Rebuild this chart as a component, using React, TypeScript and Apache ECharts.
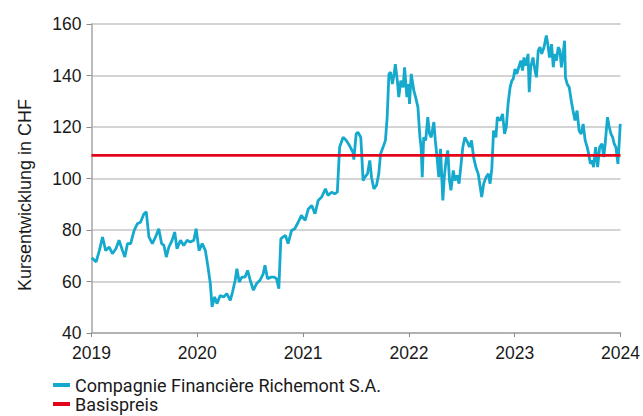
import React, { useEffect, useRef } from "react";
import * as echarts from "echarts";

const seriesName = "Compagnie Financière Richemont S.A.";
const basisName = "Basispreis";
const yAxisTitle = "Kursentwicklung in CHF";

const basisPrice = 109;
const xRange = [2019, 2024];
const yRange = [40, 160];

const dates: string[] = [
  "2019-01-02","2019-01-17","2019-01-28","2019-02-08","2019-02-19","2019-03-03","2019-03-14","2019-03-26",
  "2019-04-06","2019-04-18","2019-04-26","2019-05-05","2019-05-16","2019-05-28","2019-06-08","2019-06-19",
  "2019-07-01","2019-07-09","2019-07-18","2019-07-30","2019-08-10","2019-08-21","2019-08-31","2019-09-08",
  "2019-09-16","2019-09-25","2019-10-06","2019-10-15","2019-10-23","2019-11-04","2019-11-15","2019-11-27",
  "2019-12-08","2019-12-20","2019-12-28","2020-01-07","2020-01-18","2020-01-29","2020-02-07","2020-02-15",
  "2020-02-21","2020-03-01","2020-03-09","2020-03-20","2020-04-01","2020-04-12","2020-04-24","2020-05-02",
  "2020-05-11","2020-05-17","2020-05-25","2020-06-03","2020-06-14","2020-06-23","2020-07-02","2020-07-13",
  "2020-07-24","2020-08-05","2020-08-16","2020-08-22","2020-08-31","2020-09-12","2020-09-23","2020-10-01",
  "2020-10-09","2020-10-16","2020-10-24","2020-11-01","2020-11-10","2020-11-22","2020-12-03","2020-12-15",
  "2020-12-26","2021-01-08","2021-01-19","2021-01-31","2021-02-11","2021-02-22","2021-03-06","2021-03-19",
  "2021-03-28","2021-04-09","2021-04-20","2021-04-29","2021-05-07","2021-05-19","2021-05-30","2021-06-10",
  "2021-06-22","2021-06-25","2021-07-03","2021-07-09","2021-07-19","2021-07-27","2021-08-02","2021-08-11",
  "2021-08-19","2021-08-25","2021-09-02","2021-09-11","2021-09-19","2021-09-25","2021-10-04","2021-10-12",
  "2021-10-18","2021-10-24","2021-10-30","2021-11-05","2021-11-11","2021-11-15","2021-11-22","2021-11-27",
  "2021-12-04","2021-12-12","2021-12-17","2021-12-25","2021-12-31","2022-01-03","2022-01-09","2022-01-18",
  "2022-01-24","2022-02-01","2022-02-08","2022-02-12","2022-02-16","2022-02-21","2022-02-28","2022-03-07",
  "2022-03-13","2022-03-19","2022-03-28","2022-04-02","2022-04-08","2022-04-14","2022-04-20","2022-04-28",
  "2022-05-03","2022-05-09","2022-05-15","2022-05-21","2022-05-26","2022-06-03","2022-06-09","2022-06-16",
  "2022-06-23","2022-06-30","2022-07-06","2022-07-13","2022-07-22","2022-07-29","2022-08-05","2022-08-12",
  "2022-08-20","2022-08-28","2022-09-04","2022-09-09","2022-09-16","2022-09-24","2022-10-02","2022-10-08",
  "2022-10-14","2022-10-20","2022-10-28","2022-11-02","2022-11-12","2022-11-20","2022-11-27","2022-12-03",
  "2022-12-09","2022-12-16","2022-12-22","2022-12-27","2023-01-02","2023-01-08","2023-01-15","2023-01-22",
  "2023-01-28","2023-02-02","2023-02-09","2023-02-16","2023-02-20","2023-02-25","2023-03-05","2023-03-12",
  "2023-03-17","2023-03-23","2023-03-29","2023-04-04","2023-04-12","2023-04-20","2023-04-25","2023-05-01",
  "2023-05-08","2023-05-14","2023-05-19","2023-05-25","2023-05-31","2023-06-06","2023-06-11","2023-06-17",
  "2023-06-22","2023-06-25","2023-07-01","2023-07-08","2023-07-15","2023-07-21","2023-07-28","2023-08-04",
  "2023-08-11","2023-08-18","2023-08-25","2023-09-01","2023-09-08","2023-09-13","2023-09-19","2023-09-25",
  "2023-09-30","2023-10-07","2023-10-14","2023-10-21","2023-10-29","2023-11-04","2023-11-09","2023-11-17",
  "2023-11-23","2023-11-29","2023-12-05","2023-12-10","2023-12-16","2023-12-23","2023-12-28","2023-12-31",
];

const prices: number[] = [
  69.2,67.6,72,77.3,72,73.4,70.8,72.7,
  76,72,69.5,74.7,74.7,79.8,82.4,83,
  86.3,87,77.3,74.7,77.3,80.5,74.7,74,
  69.5,73.4,76,79.2,72.7,76,74,76,
  75.3,76,80.5,72,74.7,72,65.6,59.2,
  50.1,54,51.4,54.6,54,55.3,52.7,56,
  60.5,65,59.8,61.7,61.7,64.3,60.5,56.6,
  59.2,60.5,63,66.3,61.1,61.7,61.7,61.1,
  57.2,76.6,77.3,77.9,74.7,79.8,80.5,83,
  85.7,83.7,88.2,89.5,86.3,91.5,92.8,96,
  93.4,94.7,94.1,94.7,112.2,116,114.8,112.8,
  110.2,107.3,117.3,118,116,99.2,100.5,101.8,
  107,100.5,96,97.3,101.8,109.5,112.2,114.8,
  123.8,140.6,141.3,136.7,140.6,144.4,138,131.6,
  138,135.4,143.2,131.6,136.7,129,140.6,134.1,
  131.6,127.7,116,112.2,100.5,116,114.8,123.8,
  117.3,116,121.9,114.8,108.3,100.5,111.5,91.5,
  100.5,107,110.9,99.2,95.4,103.1,99.2,101.2,
  98,105.7,112.2,116,114.1,112.2,114.8,108.3,
  104.4,101.8,96.7,92.8,98,100.5,101.8,98,
  103.8,118.6,116,123.8,122.5,125.1,117.3,120,
  129,135.4,138,138.7,142.5,140.6,143.2,145.8,
  141.9,147,143.8,148.4,133.5,143.2,147,141.9,
  139.3,149.7,151,148.4,151,155.5,152.2,147,
  152.2,143.2,148.4,145.8,151,149.7,143.2,148.4,
  153.5,139.3,136.7,135.4,130.3,126.4,122.5,126.4,
  118.6,117.3,121.2,114.8,112.2,109.6,105.7,107,
  104.4,112.2,104.4,112.2,113.5,108.3,113.5,123.8,
  120,117.3,116,113.5,112.2,105.7,114.8,121.2,
];

function toYear(s: string): number {
  const [y, m, d] = s.split("-").map(Number);
  const start = Date.UTC(y, 0, 1);
  const end = Date.UTC(y + 1, 0, 1);
  return y + (Date.UTC(y, m - 1, d) - start) / (end - start);
}

const CYAN = "#14a9cd";
const RED = "#e3051b";
const TEXT = "#1a1a1a";
const AXIS_FONT = "'Liberation Sans', Arial, sans-serif";

export default function App() {
  const ref = useRef<HTMLDivElement>(null);
  useEffect(() => {
    if (!ref.current) return;
    const chart = echarts.init(ref.current, undefined, { renderer: "svg" });
    const mainData = dates.map((d, i) => [toYear(d), prices[i]]);
    const basisData = xRange.map((x) => [x, basisPrice]);
    chart.setOption({
      animation: false,
      backgroundColor: "#ffffff",
      grid: { left: 91.5, right: 19, top: 24, bottom: 83, containLabel: false },
      xAxis: {
        type: "value",
        min: xRange[0],
        max: xRange[1],
        interval: 1,
        axisLine: { show: true, lineStyle: { color: "#a6a6a6", width: 1.5 } },
        axisTick: { show: true, length: 4, lineStyle: { color: "#8a8a8a", width: 1 } },
        splitLine: { show: false },
        axisLabel: {
          formatter: (v: number) => String(v),
          color: TEXT,
          fontSize: 17.5,
          fontFamily: AXIS_FONT,
          margin: 11,
        },
      },
      yAxis: {
        type: "value",
        min: yRange[0],
        max: yRange[1],
        interval: 20,
        axisLine: { show: true, lineStyle: { color: "#a6a6a6", width: 1.5 } },
        axisTick: { show: true, length: 5, lineStyle: { color: "#8a8a8a", width: 1 } },
        splitLine: { show: true, lineStyle: { color: "#c6c6c6", width: 1.5 } },
        axisLabel: {
          color: TEXT,
          fontSize: 17.5,
          fontFamily: AXIS_FONT,
          margin: 10,
        },
      },
      legend: {
        orient: "vertical",
        left: 48,
        top: 371,
        height: 60,
        itemWidth: 17,
        itemHeight: 4,
        itemGap: 1,
        icon: "rect",
        textStyle: { color: TEXT, fontSize: 18, fontFamily: "Roboto, sans-serif", lineHeight: 18 },
        data: [seriesName, basisName],
      },
      graphic: [
        {
          type: "text",
          x: 25,
          y: 195,
          rotation: Math.PI / 2,
          style: {
            text: yAxisTitle,
            fill: TEXT,
            fontSize: 18,
            fontFamily: AXIS_FONT,
            textAlign: "center",
            textVerticalAlign: "middle",
          },
        },
      ],
      series: [
        {
          name: seriesName,
          type: "line",
          data: mainData,
          showSymbol: false,
          symbol: "none",
          lineStyle: { color: CYAN, width: 2.8 },
          itemStyle: { color: CYAN },
        },
        {
          name: basisName,
          type: "line",
          data: basisData,
          showSymbol: false,
          symbol: "none",
          lineStyle: { color: RED, width: 2.8 },
          itemStyle: { color: RED },
        },
      ],
    });
    return () => chart.dispose();
  }, []);
  return (
    <div
      ref={ref}
      style={{ position: "fixed", left: 0, top: 0, width: 643, height: 416 }}
    />
  );
}
